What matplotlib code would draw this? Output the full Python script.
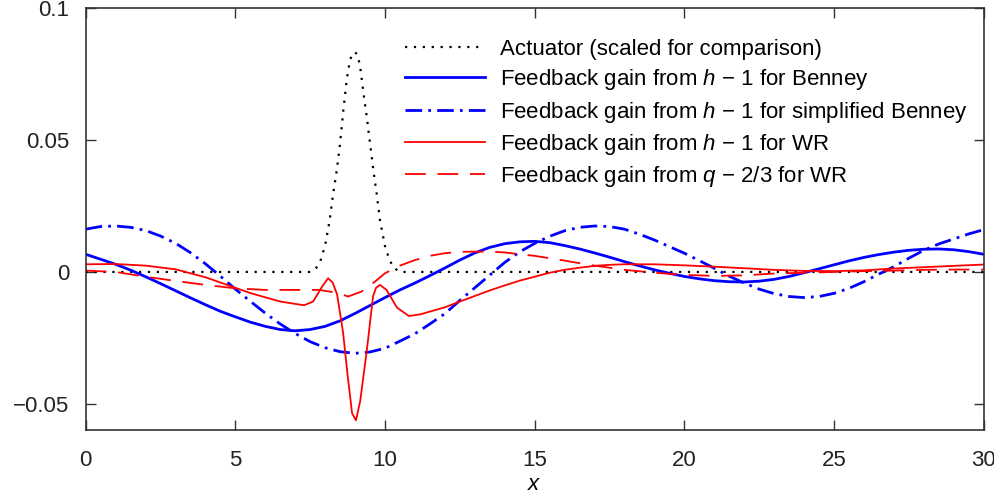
import numpy as np
import matplotlib
matplotlib.use("Agg")
import matplotlib.pyplot as plt

plt.rcParams['font.family'] = ['Liberation Sans', 'DejaVu Sans']
plt.rcParams['mathtext.fontset'] = 'custom'
plt.rcParams['mathtext.rm'] = 'Liberation Sans'
plt.rcParams['mathtext.it'] = 'Liberation Sans:italic'

# actuator (scaled)
x_act = [0, 7.5, 7.7, 7.85, 8.0, 8.15, 8.27, 8.39, 8.5, 8.61, 8.72, 8.83, 8.92, 9.0,
         9.08, 9.17, 9.28, 9.39, 9.5, 9.61, 9.72, 9.83, 10.0, 10.15, 10.3, 10.5, 30]
y_act = [0, 0, 0.0015, 0.0045, 0.0100, 0.0195, 0.0298, 0.0386, 0.0487, 0.0614, 0.0727,
         0.0803, 0.0828, 0.0832, 0.0823, 0.0778, 0.0677, 0.0588, 0.0487, 0.0386, 0.0298,
         0.0197, 0.0098, 0.0045, 0.0015, 0, 0]

# x grid (step 0.5) for the Benney curves
x_half = [i * 0.5 for i in range(61)]

# Benney, h-1
y_ben = [0.0067, 0.0048, 0.0029, 0.0007, -0.0018, -0.0044, -0.0071, -0.0098, -0.0124,
         -0.0149, -0.0170, -0.0190, -0.0206, -0.0218, -0.0223, -0.0218, -0.0206, -0.0185,
         -0.0157, -0.0127, -0.0097, -0.0068, -0.0042, -0.0014, 0.0015, 0.0045, 0.0072,
         0.0093, 0.0107, 0.0114, 0.0116, 0.0111, 0.0100, 0.0087, 0.0072, 0.0056, 0.0039,
         0.0023, 0.0008, -0.0005, -0.0017, -0.0026, -0.0033, -0.0037, -0.0038, -0.0035,
         -0.0028, -0.0017, -0.0003, 0.0012, 0.0027, 0.0042, 0.0055, 0.0066, 0.0075,
         0.0082, 0.0086, 0.0087, 0.0084, 0.0077, 0.0067]

# simplified Benney, h-1
y_sben = [0.0162, 0.0172, 0.0174, 0.0169, 0.0157, 0.0136, 0.0109, 0.0073, 0.0031, -0.0016,
          -0.0065, -0.0111, -0.0156, -0.0197, -0.0233, -0.0264, -0.0287, -0.0302, -0.0308,
          -0.0303, -0.0289, -0.0262, -0.0234, -0.0197, -0.0158, -0.0108, -0.0060, -0.0012,
          0.0036, 0.0076, 0.0108, 0.0135, 0.0156, 0.0169, 0.0174, 0.0172, 0.0162, 0.0143,
          0.0121, 0.0096, 0.0071, 0.0043, 0.0014, -0.0016, -0.0042, -0.0065, -0.0082,
          -0.0093, -0.0097, -0.0093, -0.0081, -0.0062, -0.0037, -0.0008, 0.0020, 0.0052,
          0.0082, 0.0106, 0.0125, 0.0144, 0.0160]

# WR, h-1
x_wrh = [0, 1, 2, 3, 3.5, 4, 4.5, 5, 5.5, 6, 6.5, 7, 7.3, 7.6, 7.9, 8.1, 8.25, 8.4, 8.6,
         8.75, 8.9, 9.03, 9.17, 9.4, 9.6, 9.7, 9.83, 10.05, 10.4, 10.8, 11.2, 11.5, 12,
         12.5, 13, 13.5, 14, 14.5, 15, 15.5, 16, 16.5, 17, 17.5, 18, 19, 20, 21, 22, 23,
         24, 25, 26, 27, 28, 29, 30]
y_wrh = [0.0029, 0.0030, 0.0024, 0.0010, -0.0005, -0.0020, -0.0040, -0.0060, -0.0080,
         -0.0096, -0.0112, -0.0121, -0.0126, -0.0112, -0.0055, -0.0024, -0.0040, -0.0085,
         -0.0230, -0.0390, -0.0535, -0.0562, -0.0490, -0.0290, -0.0093, -0.0060, -0.0049,
         -0.0068, -0.0135, -0.0167, -0.0160, -0.0150, -0.0134, -0.0112, -0.0091, -0.0070,
         -0.0051, -0.0033, -0.0018, -0.0003, 0.0008, 0.0016, 0.0023, 0.0027, 0.0029,
         0.0029, 0.0025, 0.0020, 0.0014, 0.0008, 0.0004, 0.0003, 0.0006, 0.0013, 0.0018,
         0.0023, 0.0028]

# WR, q-2/3
x_wrq = [0, 1, 2, 3, 4, 5, 6, 7, 7.8, 8.35, 8.77, 9.22, 9.66, 10, 10.5, 11, 11.5, 12,
         12.5, 13, 13.5, 14, 14.5, 15, 15.5, 16, 16.5, 17, 17.5, 18, 19, 20, 21, 22, 23,
         24, 25, 26, 27, 28, 29, 30]
y_wrq = [0.0005, 0.0000, -0.0018, -0.0034, -0.0049, -0.0062, -0.0068, -0.0068, -0.0068,
         -0.0078, -0.0093, -0.0074, -0.0037, -0.0005, 0.0024, 0.0045, 0.0061, 0.0071,
         0.0076, 0.0077, 0.0077, 0.0074, 0.0067, 0.0061, 0.0052, 0.0043, 0.0033, 0.0024,
         0.0016, 0.0008, -0.0003, -0.0011, -0.0015, -0.0013, -0.0006, -0.0003, 0.0000,
         0.0003, 0.0005, 0.0008, 0.0009, 0.0009]

labels = ['Actuator (scaled for comparison)',
          'Feedback gain from $h$ \u2212 1 for Benney',
          'Feedback gain from $h$ \u2212 1 for simplified Benney',
          'Feedback gain from $h$ \u2212 1 for WR',
          'Feedback gain from $q$ \u2212 2/3 for WR']

yticks = [-0.05, 0, 0.05, 0.1]
ytick_labels = ['\u22120.05', '0', '0.05', '0.1']
xticks = [0, 5, 10, 15, 20, 25, 30]

fig = plt.figure(figsize=(9.95, 4.93), dpi=100)
ax = fig.add_axes([0.0861, 0.127, 0.9025, 0.857])

ax.plot(x_act, y_act, color='black', lw=1.6, linestyle=(0, (1, 3)), label=labels[0])
ax.plot(x_half, y_ben, color='#0000ff', lw=2.0, label=labels[1])
ax.plot(x_half, y_sben, color='#0000ff', lw=2.0, linestyle=(0, (6, 2.2, 1, 2.2)),
        label=labels[2])
ax.plot(x_wrh, y_wrh, color='#ff0000', lw=1.3, label=labels[3])
ax.plot(x_wrq, y_wrq, color='#ff0000', lw=1.3, linestyle=(0, (11.5, 6.5)), label=labels[4])

ax.set_xlim(0, 30)
ax.set_ylim(-0.06, 0.1)
ax.set_xticks(xticks)
ax.set_yticks(yticks)
ax.set_yticklabels(ytick_labels)
ax.tick_params(direction='in', top=True, right=True, length=7, width=1,
               color='#333333', labelsize=16, labelcolor='#222222')
ax.tick_params(axis='y', pad=12)
ax.tick_params(axis='x', pad=14)
for s in ax.spines.values():
    s.set_linewidth(1.2)
    s.set_color('#333333')
ax.set_xlabel('$x$', fontsize=16, labelpad=2)

ax.legend(loc='upper left', bbox_to_anchor=(0.3556, 0.9266), frameon=False, fontsize=16,
          handlelength=3.6, handletextpad=0.68, borderpad=0, borderaxespad=0,
          labelspacing=0.33)

fig.savefig('out.png', dpi=100)
